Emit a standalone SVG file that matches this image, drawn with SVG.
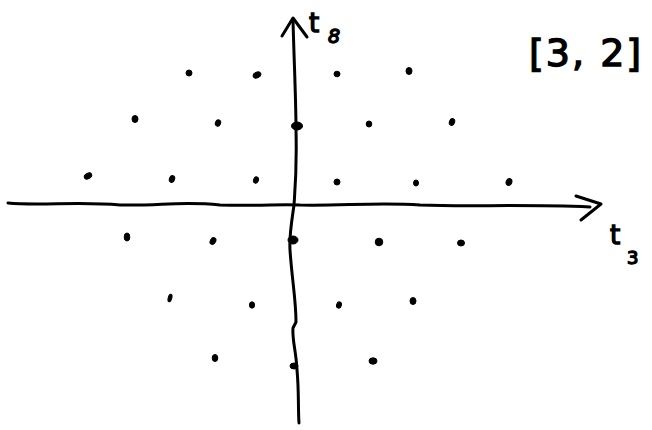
<svg xmlns="http://www.w3.org/2000/svg" width="652" height="430" viewBox="0 0 652 430">
<style>
.ax{fill:none;stroke:#000;stroke-width:3;stroke-linecap:round;stroke-linejoin:round}
.d{fill:#000;stroke:#000;stroke-width:1}
.lbl{font-family:"DejaVu Sans","Liberation Sans",sans-serif;fill:#000;stroke:#000;stroke-width:1.4}
</style>
<rect width="652" height="430" fill="#fff"/>
<g id="axes">
<path class="ax" d="M8,203 C40,206 80,201 120,205 C160,206 180,201 220,205 C260,206 280,204 300,205 C340,206 380,202 420,205 C470,207 520,204 590,207"/>
<path class="ax" d="M576,196 L601,204 L581,220"/>
<path class="ax" d="M293,20 C294,60 296,100 296,130 C297,170 295,190 294,205 C292,220 289,235 290,250 C292,280 296,300 296,322 L293,328 C292,340 296,350 297,370 C299,390 298,410 299,423"/>
<path class="ax" d="M282,36 L293,18 L307,37"/>
</g>
<g id="dots">
<ellipse class="d" cx="189" cy="73" rx="3" ry="3"/>
<ellipse class="d" cx="257" cy="75" rx="4" ry="2.8" transform="rotate(-25 257 75)"/>
<ellipse class="d" cx="337" cy="74" rx="3" ry="2.8"/>
<ellipse class="d" cx="409" cy="71" rx="3" ry="3.5"/>
<ellipse class="d" cx="135" cy="119" rx="3" ry="3.5"/>
<ellipse class="d" cx="218" cy="123" rx="2.6" ry="3.2" transform="rotate(20 218 123)"/>
<ellipse class="d" cx="297" cy="126" rx="5.5" ry="4"/>
<ellipse class="d" cx="369" cy="124" rx="2.8" ry="3"/>
<ellipse class="d" cx="452" cy="122" rx="2.6" ry="3.4" transform="rotate(20 452 122)"/>
<ellipse class="d" cx="88" cy="176" rx="4" ry="2.6" transform="rotate(-30 88 176)"/>
<ellipse class="d" cx="172" cy="179" rx="2.6" ry="3.4" transform="rotate(20 172 179)"/>
<ellipse class="d" cx="256" cy="180" rx="2.4" ry="3.2" transform="rotate(20 256 180)"/>
<ellipse class="d" cx="337" cy="182" rx="3" ry="3"/>
<ellipse class="d" cx="416" cy="183" rx="2.5" ry="3"/>
<ellipse class="d" cx="509" cy="182" rx="2.8" ry="3.6" transform="rotate(20 509 182)"/>
<ellipse class="d" cx="127" cy="237" rx="2.8" ry="4"/>
<ellipse class="d" cx="213" cy="241" rx="2.6" ry="3.6" transform="rotate(30 213 241)"/>
<ellipse class="d" cx="293" cy="240" rx="5" ry="4"/>
<ellipse class="d" cx="379" cy="242" rx="3.8" ry="3.8"/>
<ellipse class="d" cx="461" cy="243" rx="3.5" ry="3"/>
<ellipse class="d" cx="170" cy="298" rx="1.8" ry="3.8" transform="rotate(15 170 298)"/>
<ellipse class="d" cx="252" cy="305" rx="2.6" ry="3.2"/>
<ellipse class="d" cx="339" cy="305" rx="2.4" ry="3.2" transform="rotate(15 339 305)"/>
<ellipse class="d" cx="413" cy="301" rx="3" ry="3.5"/>
<ellipse class="d" cx="215" cy="358" rx="2.8" ry="3.5"/>
<ellipse class="d" cx="294" cy="366" rx="4" ry="3"/>
<ellipse class="d" cx="373" cy="361" rx="4" ry="3.2"/>
</g>
<g id="labels">
<text class="lbl" x="309" y="32" font-size="26">t</text>
<text class="lbl" x="328" y="43" font-size="19" font-style="italic">8</text>
<text class="lbl" x="610" y="244" font-size="26">t</text>
<text class="lbl" x="627" y="264" font-size="18">3</text>
<text class="lbl" x="529" y="66" font-size="38" letter-spacing="2">[3, 2]</text>
</g>
</svg>
